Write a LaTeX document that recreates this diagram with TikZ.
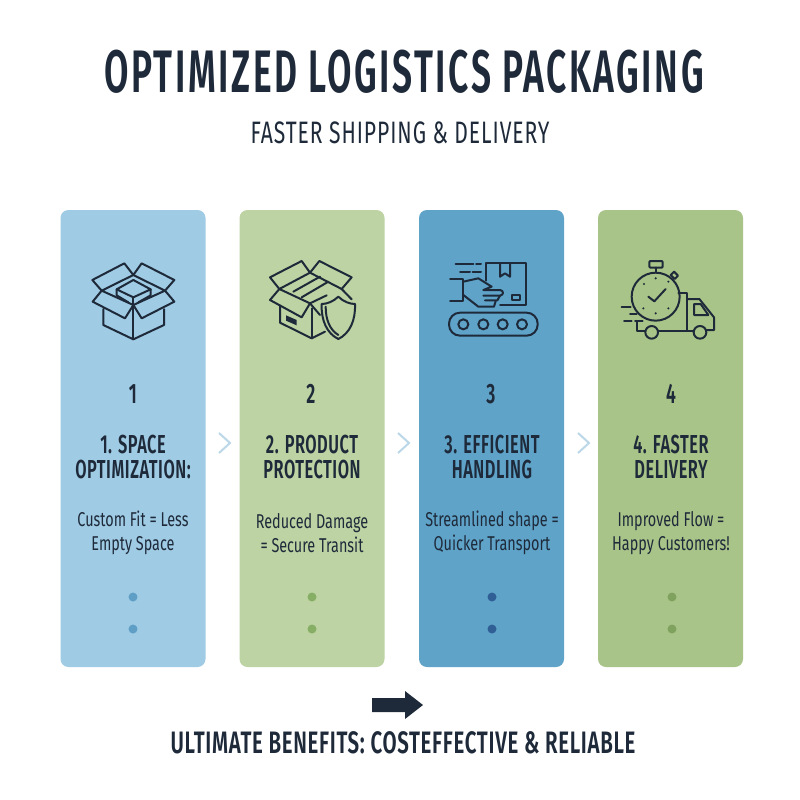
\documentclass[tikz,border=0pt]{standalone}
\usepackage{fontspec}
\setmainfont{Fira Sans}
\newfontfamily\titlefont[FakeStretch=0.59,LetterSpace=4.2]{Fira Sans SemiBold}
\newfontfamily\headfont[FakeStretch=0.63,LetterSpace=2]{Fira Sans SemiBold}
\newfontfamily\closefont[FakeStretch=0.66,LetterSpace=2.2]{Fira Sans SemiBold}
\newfontfamily\subfont[FakeStretch=0.68,LetterSpace=3]{Fira Sans}
\newfontfamily\bodyfont[FakeStretch=0.72]{Fira Sans}
\definecolor{inkdark}{HTML}{1E2A3A}
\definecolor{cardblue}{HTML}{9FCBE4}
\definecolor{cardgreen}{HTML}{BDD3A3}
\definecolor{carddeep}{HTML}{5FA3C9}
\definecolor{cardmoss}{HTML}{A9C488}
\definecolor{dotblue}{HTML}{5F9FC6}
\definecolor{dotgreen}{HTML}{86AE64}
\definecolor{dotdeep}{HTML}{2F5F95}
\definecolor{dotmoss}{HTML}{7FA35F}
\definecolor{chevron}{HTML}{BCD8E8}
\tikzset{%
  card/.style={minimum width=145pt, minimum height=457pt, rounded corners=8pt, inner sep=0pt},
  numlabel/.style={text=inkdark, font=\headfont\fontsize{28}{28}\selectfont},
  headlabel/.style={text=inkdark, align=center, font=\headfont\fontsize{26}{25.5}\selectfont},
  bodylabel/.style={text=inkdark, align=center, font=\bodyfont\fontsize{20}{23.5}\selectfont},
  icon/.style={draw=inkdark, line width=2pt, line join=round, line cap=round},
  chevronline/.style={draw=chevron, line width=2pt, line join=miter},
}
\begin{document}
\begin{tikzpicture}[x=1pt,y=-1pt]
  \useasboundingbox (0,0) rectangle (800,800);
  \fill[white] (0,0) rectangle (800,800);

  % title and subtitle
  \node (title) at (404,72) {\textcolor{inkdark}{\titlefont\fontsize{60}{60}\selectfont OPTIMIZED LOGISTICS PACKAGING}};
  \node (subtitle) at (400,133) {\textcolor{inkdark}{\subfont\fontsize{31}{31}\selectfont FASTER SHIPPING \& DELIVERY}};

  % the four cards
  \node[card, fill=cardblue] (card1) at (133,438.5) {};
  \node[card, fill=cardgreen] (card2) at (312,438.5) {};
  \node[card, fill=carddeep] (card3) at (491.5,438.5) {};
  \node[card, fill=cardmoss] (card4) at (670.5,438.5) {};

  % chevrons between the cards
  \draw[chevronline] (219,433) -- (230,443) -- (219,453);
  \draw[chevronline] (398,433) -- (409,443) -- (398,453);
  \draw[chevronline] (578,433) -- (589,443) -- (578,453);

  % open box with a small box inside
  \begin{scope}[shift={(60,240)},scale=1/3,icon]
    \draw (125,152) -- (220,105) -- (315,152) -- (220,195) -- cycle;
    \draw (125,152) -- (97,120) -- (193,70) -- (220,105) -- (245,70) -- (343,120) -- (315,152);
    \draw (125,152) -- (98,185) -- (195,235) -- (220,195) -- (245,235) -- (343,185) -- (315,152);
    \draw (130,207) -- (130,255) -- (220,298) -- (312,255) -- (312,207);
    \draw (220,195) -- (220,298);
    \draw (170,148) -- (220,120) -- (272,148) -- (220,172) -- cycle;
    \draw (170,148) -- (170,166) -- (205,187);
    \draw (272,148) -- (272,166) -- (235,187);
    \draw (220,172) -- (220,195);
  \end{scope}

  % box with tape and shield
  \begin{scope}[shift={(60,240)},scale=1/3,icon]
    \draw (658,147) -- (750,98) -- (845,147);
    \draw (658,147) -- (750,190) -- (800,166);
    \draw (658,147) -- (630,112) -- (725,63) -- (750,98) -- (778,63) -- (875,112) -- (845,147) -- (875,178);
    \draw (658,147) -- (630,180) -- (725,232) -- (750,190) -- (780,225);
    \draw (700,155) -- (780,110);
    \draw (725,172) -- (805,125);
    \draw (660,197) -- (660,248) -- (755,295) -- (795,275);
    \draw (755,205) -- (755,295);
    \fill[inkdark] (678,226) -- (710,240) -- (710,256) -- (678,242) -- cycle;
    \draw (835,170) .. controls (820,185) and (800,192) .. (785,192) .. controls (783,240) and (800,280) .. (835,297) .. controls (870,280) and (887,240) .. (885,192) .. controls (870,192) and (850,185) .. (835,170) -- cycle;
    \draw (797,200) .. controls (797,240) and (810,270) .. (835,285);
  \end{scope}

  % hand, parcel and conveyor
  \begin{scope}[shift={(420,240)},scale=1/3,icon]
    \draw (107,72) -- (160,72);
    \draw (168,72) -- (183,72);
    \draw (120,97) -- (150,97);
    \draw (158,97) -- (183,97);
    \draw (197,122) -- (197,70) -- (317,70) -- (317,195) -- (240,195);
    \draw (240,70) -- (240,110) -- (255,100) -- (270,110) -- (270,70);
    \draw (275,165) rectangle (300,180);
    \draw (90,117) -- (130,117) -- (130,183) -- (90,183);
    \draw (130,125) -- (175,115) -- (215,140) -- (190,150) -- (240,150) .. controls (252,152) and (252,165) .. (240,167) -- (190,167);
    \draw (240,167) -- (232,181) -- (195,181);
    \draw (130,165) -- (175,200) -- (222,200) -- (227,183);
    \draw[rounded corners=11pt] (87,218) rectangle (353,287);
    \draw (130,253) circle (15);
    \draw (190,253) circle (15);
    \draw (248,253) circle (15);
    \draw (306,253) circle (15);
  \end{scope}

  % stopwatch and delivery truck
  \begin{scope}[shift={(420,240)},scale=1/3,icon]
    \draw (707,170) circle (72);
    \draw[rounded corners=1pt] (688,63) rectangle (728,83);
    \draw (707,83) -- (707,98);
    \draw (752,105) -- (762,95) -- (774,107) -- (764,117) -- cycle;
    \fill[inkdark] (707,115) circle (3.5);
    \fill[inkdark] (707,220) circle (3.5);
    \fill[inkdark] (672,132) circle (3.5);
    \fill[inkdark] (745,125) circle (3.5);
    \fill[inkdark] (670,205) circle (3.5);
    \fill[inkdark] (745,205) circle (3.5);
    \draw (685,170) -- (703,184) -- (737,147);
    \draw (775,160) -- (802,160) -- (802,272);
    \draw (802,177) -- (838,177) -- (882,232) -- (882,270) -- (860,270);
    \draw (822,192) -- (842,192) -- (865,225) -- (822,225) -- cycle;
    \draw (695,277) circle (19);
    \draw (840,277) circle (19);
    \draw (650,243) -- (650,272) -- (675,272);
    \draw (715,272) -- (820,272);
    \draw (605,200) -- (632,200);
    \draw (630,222) -- (650,222);
    \draw (612,243) -- (635,243);
    \draw (645,243) -- (668,243);
  \end{scope}

  % numbers
  \node[numlabel] (num1) at (133,394) {1};
  \node[numlabel] (num2) at (311,394) {2};
  \node[numlabel] (num3) at (491,394) {3};
  \node[numlabel] (num4) at (671,394) {4};

  % headings
  \node[headlabel] (head1) at (133,457) {1. SPACE\\OPTIMIZATION:};
  \node[headlabel] (head2) at (312,457) {2. PRODUCT\\PROTECTION};
  \node[headlabel] (head3) at (492,457) {3. EFFICIENT\\HANDLING};
  \node[headlabel] (head4) at (671,457) {4. FASTER\\DELIVERY};

  % short texts
  \node[bodylabel] (body1) at (133,533) {Custom Fit = Less\\Empty Space};
  \node[bodylabel] (body2) at (312,533) {Reduced Damage\\= Secure Transit};
  \node[bodylabel] (body3) at (492,533) {Streamlined shape =\\Quicker Transport};
  \node[bodylabel] (body4) at (671,533) {Improved Flow =\\Happy Customers!};

  % dots at the foot of each card
  \fill[dotblue] (133,597) circle (4.5) (133,629) circle (4.5);
  \fill[dotgreen] (312,597) circle (4.5) (312,629) circle (4.5);
  \fill[dotdeep] (492,597) circle (4.5) (492,629) circle (4.5);
  \fill[dotmoss] (672,597) circle (4.5) (672,629) circle (4.5);

  % arrow and closing line
  \fill[inkdark] (372,698) -- (405,698) -- (405,691) -- (423,705) -- (405,719) -- (405,712) -- (372,712) -- cycle;
  \node (closing) at (403,743) {\textcolor{inkdark}{\closefont\fontsize{31}{31}\selectfont ULTIMATE BENEFITS: COSTEFFECTIVE \& RELIABLE}};
\end{tikzpicture}
\end{document}
